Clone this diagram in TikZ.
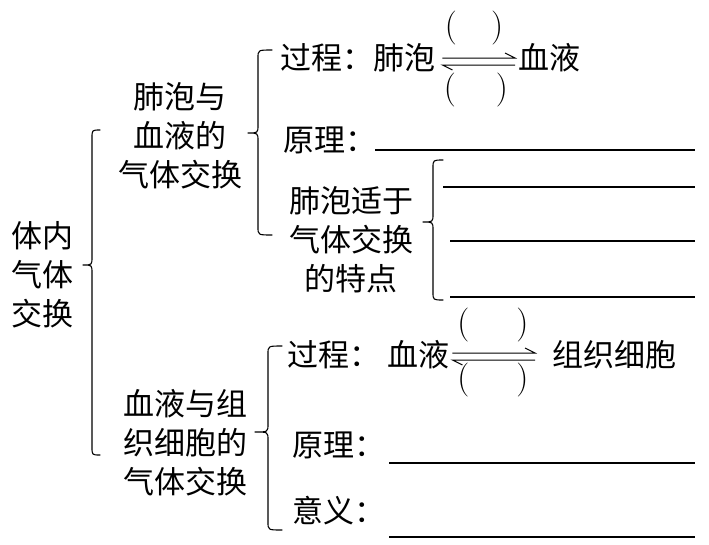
\documentclass[tikz,border=0pt]{standalone}
\usepackage{fontspec}
\newfontfamily\cjk{Noto Sans CJK SC}
\newcommand\mybrace[6]{% xend xv xtip ytop ytip ybot
  \draw[brc] (#1,#4) .. controls (#2,#4) .. (#2,{#4+8}) -- (#2,{#5-8})
    .. controls (#2,#5) .. (#3,#5) .. controls (#2,#5) .. (#2,{#5+8})
    -- (#2,{#6-8}) .. controls (#2,#6) .. (#1,#6);}
\begin{document}
\begin{tikzpicture}[x=1pt,y=-1pt,
  txt/.style={font=\cjk\fontsize{31}{38}\selectfont, inner sep=0pt, text height=0.88em, text depth=0.12em, yshift=-6pt},
  multi/.style={font=\cjk\fontsize{31}{39}\selectfont, inner sep=0pt, align=center},
  paren/.style={font=\fontsize{34}{34}\selectfont, inner sep=0pt},
  brc/.style={line width=1.1pt, line cap=round, line join=round},
  blank/.style={line width=1.3pt},
  harp/.style={line width=1pt, line join=miter}]
\useasboundingbox (0,0) rectangle (709,544);
% left column
\node[multi] (root) at (43,275) {体内\\气体\\交换};
\mybrace{100}{92}{83}{130}{265}{455}
% upper branch
\node[multi] (a) at (180,136) {肺泡与\\血液的\\气体交换};
\mybrace{272}{258}{248}{50}{133}{235}
\node[txt,anchor=west] (a1) at (280,60) {过程：肺泡};
\node[txt,anchor=west] (a1r) at (518,60) {血液};
\node[paren] (a1u) at (474,28) {(\hspace{34pt})};
\node[paren] (a1d) at (476,90) {(\hspace{40pt})};
\draw[harp] ([xshift=7pt,yshift=8pt]a1.east) -- ([xshift=-3pt,yshift=8pt]a1r.west) -- ++(-10,-5);
\draw[harp] ([xshift=-3pt,yshift=1pt]a1r.west) -- ([xshift=7pt,yshift=1pt]a1.east) -- ++(10,5);
\node[txt,anchor=west] (a2) at (283,142) {原理：};
\draw[blank] (375,150) -- (695,150);
\node[multi] (a3) at (351,240) {肺泡适于\\气体交换\\的特点};
\mybrace{443}{433}{423}{160}{222}{300}
\draw[blank] (443,187) -- (695,187);
\draw[blank] (450,241) -- (695,241);
\draw[blank] (450,297) -- (695,297);
% lower branch
\node[multi] (b) at (185,443) {血液与组\\织细胞的\\气体交换};
\mybrace{282}{268}{255}{346}{432}{530}
\node[txt,anchor=west] (b1) at (287,357) {过程：};
\node[txt,anchor=west] (b1l) at (387,357) {血液};
\node[txt,anchor=west] (b1r) at (552,357) {组织细胞};
\node[paren] (b1u) at (493,325) {(\hspace{47pt})};
\node[paren] (b1d) at (493,380) {(\hspace{47pt})};
\draw[harp] ([xshift=3pt,yshift=10pt]b1l.east) -- ([xshift=-17pt,yshift=10pt]b1r.west) -- ++(-10,-5);
\draw[harp] ([xshift=-17pt,yshift=3pt]b1r.west) -- ([xshift=3pt,yshift=3pt]b1l.east) -- ++(10,5);
\node[txt,anchor=west] (b2) at (292,447) {原理：};
\draw[blank] (389,463) -- (695,463);
\node[txt,anchor=west] (b3) at (292,513) {意义：};
\draw[blank] (389,537) -- (695,537);
\end{tikzpicture}
\end{document}
